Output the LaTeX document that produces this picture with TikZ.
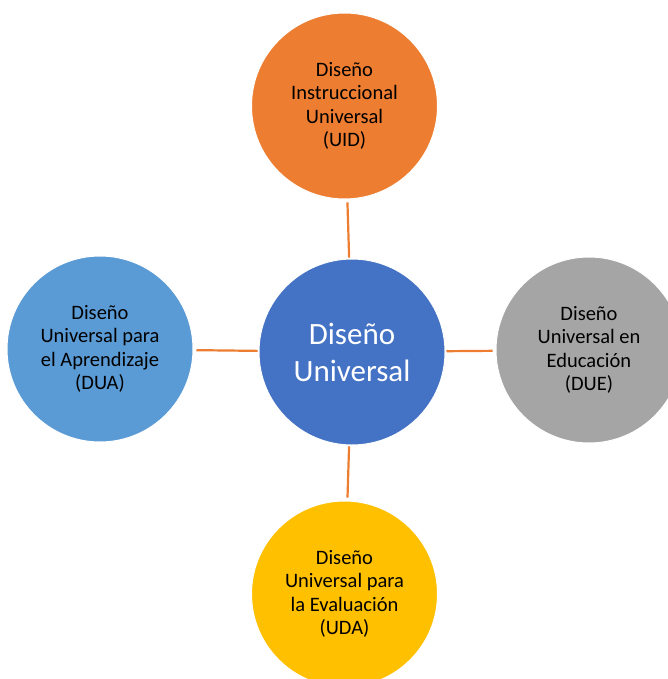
\documentclass[tikz,border=0pt]{standalone}
\usepackage{fontspec}
\setmainfont{Carlito}
\usetikzlibrary{positioning}

\definecolor{duorange}{HTML}{ED7D31}
\definecolor{dublue}{HTML}{4472C4}
\definecolor{dulightblue}{HTML}{5B9BD5}
\definecolor{dugray}{HTML}{A5A5A5}
\definecolor{duyellow}{HTML}{FFC000}

\begin{document}
\begin{tikzpicture}[x=1pt,y=-1pt,
  topic/.style={circle,draw=white,line width=1pt,minimum size=186pt,inner sep=0pt,align=center,font=\fontsize{20.5}{23.5}\selectfont},
  link/.style={draw=duorange,line width=2.2pt,shorten >=3pt,shorten <=1pt}]
\clip (0,0) rectangle (668,679);

\node[topic,fill=dublue,text=white,font=\fontsize{31}{37}\selectfont] (DU) at (352,352) {Diseño\\Universal};

\node[topic,fill=duorange] (UID) at (344.5,106) {Diseño\\Instruccional\\Universal\\(UID)};
\node[topic,fill=dulightblue] (DUA) at (100,349) {Diseño\\Universal para\\el Aprendizaje\\(DUA)};
\node[topic,fill=dugray] (DUE) at (589,350) {Diseño\\Universal en\\Educación\\(DUE)};
\node[topic,fill=duyellow] (UDA) at (344.5,594) {Diseño\\Universal para\\la Evaluación\\(UDA)};

\draw[link] (DU) -- (UID);
\draw[link] (DU) -- (DUA);
\draw[link] (DU) -- (DUE);
\draw[link] (DU) -- (UDA);

\end{tikzpicture}
\end{document}
